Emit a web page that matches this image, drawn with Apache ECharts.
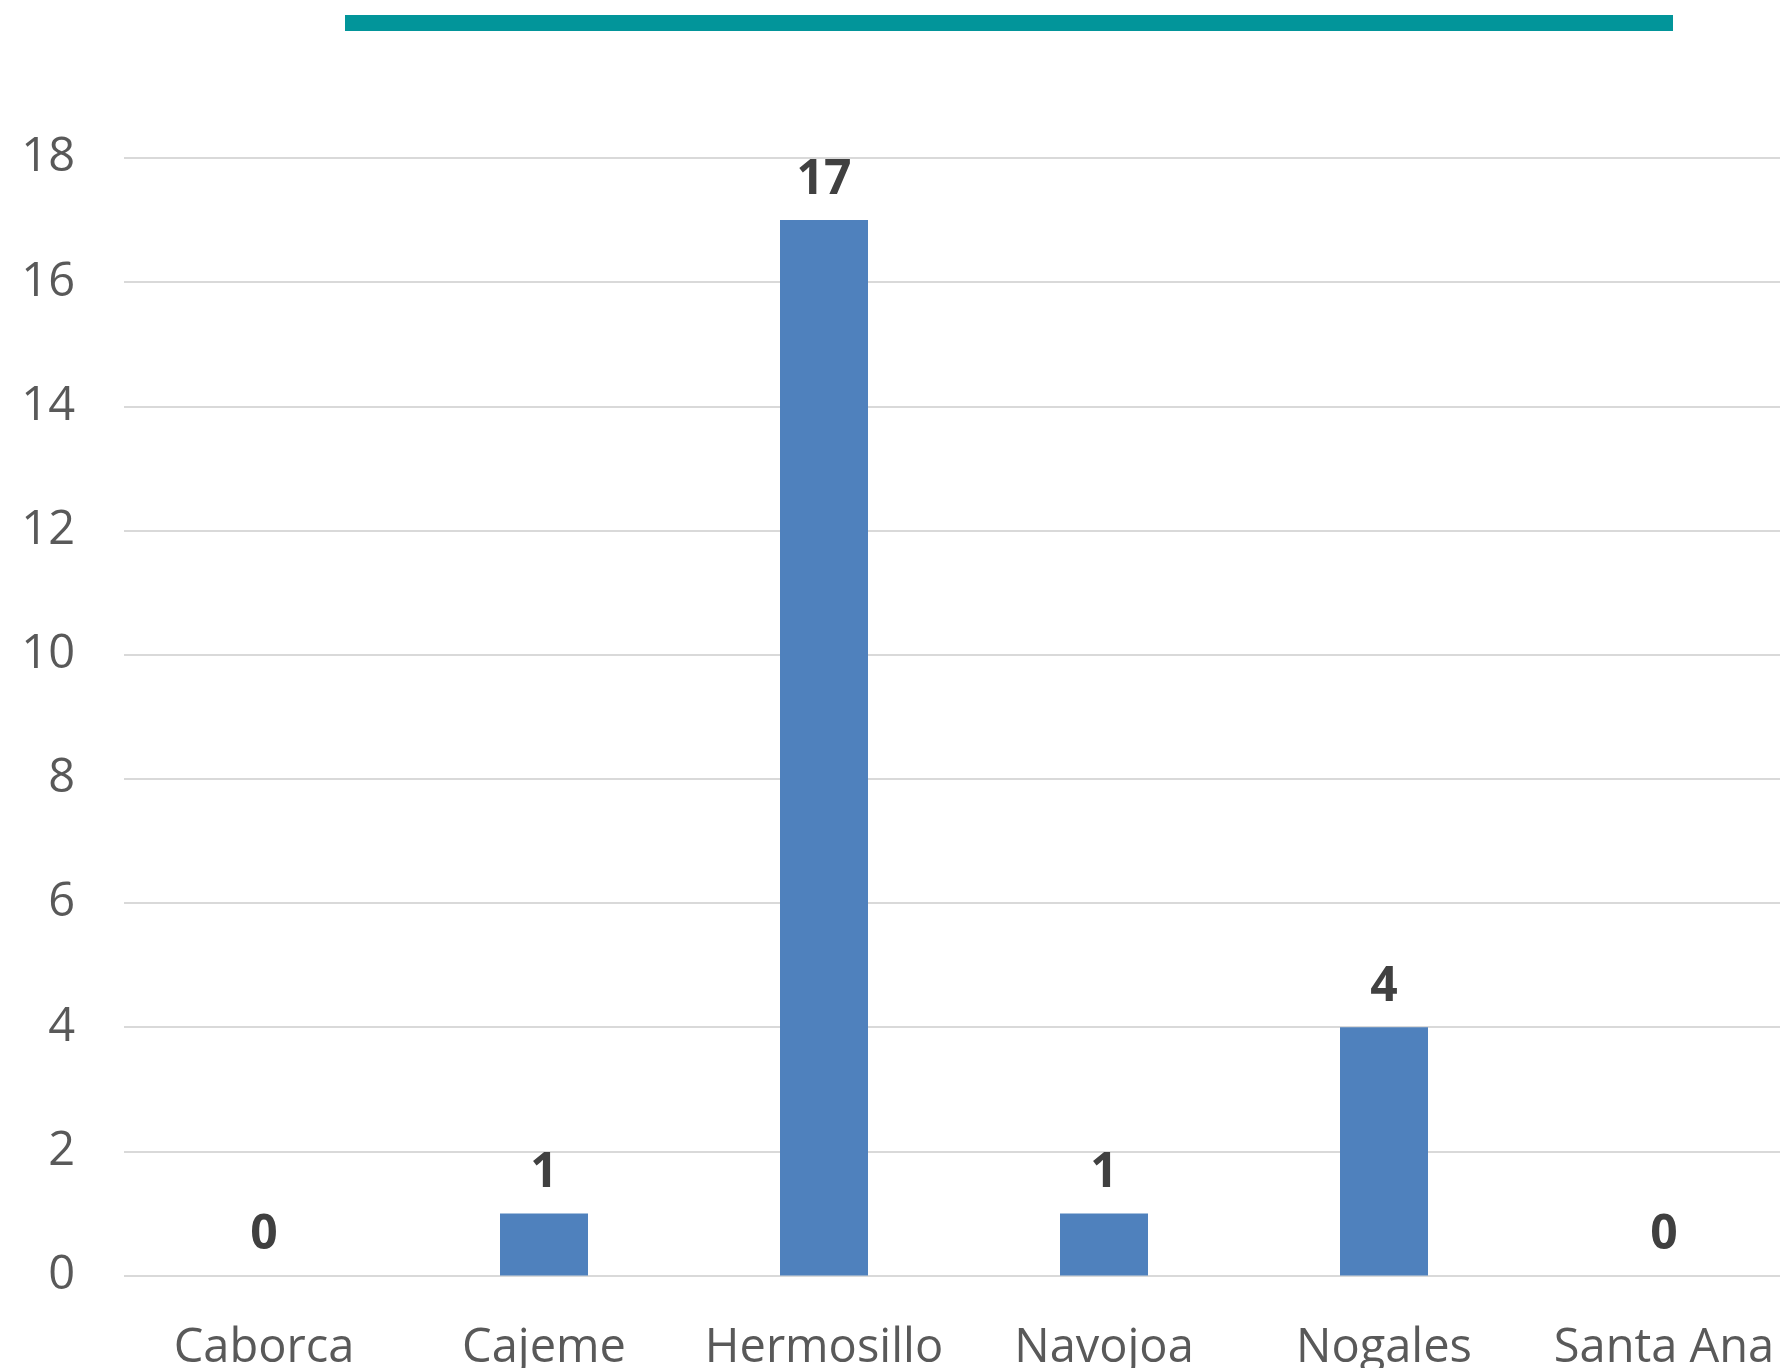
<!DOCTYPE html>
<html>
<head>
<meta charset="utf-8">
<script src="https://cdn.jsdelivr.net/npm/echarts@6/dist/echarts.min.js"></script>
<style>
html,body{margin:0;padding:0;background:#ffffff;}
#wrap{width:1780px;height:1368px;overflow:hidden;position:relative;}
#chart{position:absolute;left:0;top:0;width:1804px;height:1368px;}
</style>
</head>
<body>
<div id="wrap"><div id="chart"></div></div>
<script>
const categories = ['Caborca', 'Cajeme', 'Hermosillo', 'Navojoa', 'Nogales', 'Santa Ana'];
const values = [0, 1, 17, 1, 4, 0];
const yMin = 0, yMax = 18, yInterval = 2;

const chart = echarts.init(document.getElementById('chart'), null, {renderer: 'canvas'});
chart.setOption({
  backgroundColor: '#ffffff',
  animation: false,
  graphic: [{
    type: 'rect',
    left: 345, top: 15,
    shape: {width: 1328, height: 16},
    style: {fill: '#02959A'}
  }],
  grid: {left: 124, top: 158, right: 0, bottom: 92.5, containLabel: false, outerBoundsMode: 'none'},
  xAxis: {
    type: 'category',
    data: categories,
    axisLine: {show: false},
    axisTick: {show: false},
    axisLabel: {
      color: '#595959',
      fontFamily: 'Open Sans',
      fontSize: 47,
      margin: 50,
      interval: 0
    }
  },
  yAxis: {
    type: 'value',
    min: yMin, max: yMax, interval: yInterval,
    axisLine: {show: false},
    axisTick: {show: false},
    splitLine: {lineStyle: {color: '#D9D9D9', width: 2}},
    axisLabel: {
      color: '#595959',
      fontFamily: 'Open Sans',
      fontSize: 47,
      margin: 49
    }
  },
  series: [{
    type: 'bar',
    data: values,
    barWidth: 88,
    itemStyle: {color: '#4F81BD'},
    label: {
      show: true,
      position: 'top',
      distance: 16,
      color: '#404040',
      fontFamily: 'Open Sans',
      fontWeight: 'bold',
      fontSize: 48
    }
  }]
});
</script>
</body>
</html>
